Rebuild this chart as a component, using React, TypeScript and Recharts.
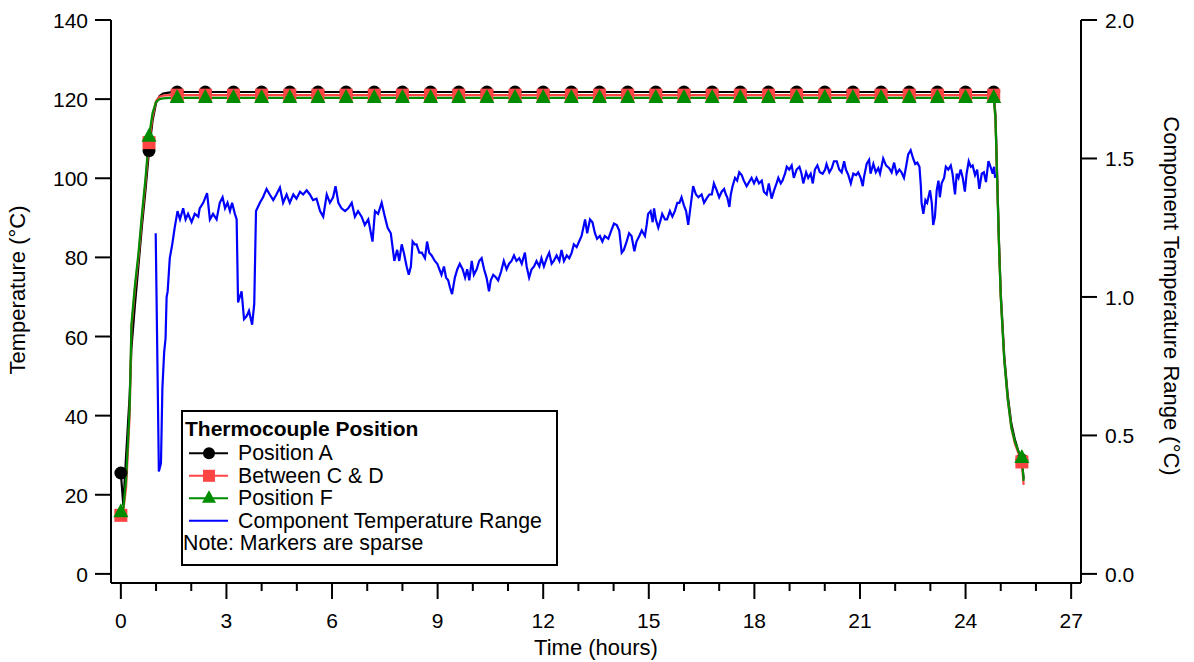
import React from "react";
import { ComposedChart, Line, XAxis, YAxis, Legend } from "recharts";

const FONT = "Arial, 'Liberation Sans', Helvetica, sans-serif";
const RED = "#ff4444";
const GREEN = "#008c00";
const BLUE = "#0000ff";

// thermocouple samples (hours); markers are drawn every 0.8 h
const thermoHours = [
  0, 0.07, 0.15, 0.25, 0.3, 0.4, 0.5, 0.6, 0.7, 0.8, 0.9, 1.0, 1.1, 1.2, 1.4,
  1.6, 2.4, 3.2, 4.0, 4.8, 5.6, 6.4, 7.2, 8.0, 8.8,
  9.6, 10.4, 11.2, 12.0, 12.8, 13.6, 14.4, 15.2, 16.0, 16.8,
  17.6, 18.4, 19.2, 20.0, 20.8, 21.6, 22.4, 23.2, 24.0, 24.8,
  24.85, 24.9, 24.95, 25.0, 25.1, 25.2, 25.3, 25.4, 25.5, 25.6, 25.65,
];

const positionA = [
  25.5, 17.4, 30, 45, 57, 68, 78, 88, 97, 107, 114.5, 119, 120.8, 121.4, 121.7,
  121.8, 121.8, 121.8, 121.8, 121.8, 121.8, 121.8, 121.8, 121.8, 121.8,
  121.8, 121.8, 121.8, 121.8, 121.8, 121.8, 121.8, 121.8, 121.8, 121.8,
  121.8, 121.8, 121.8, 121.8, 121.8, 121.8, 121.8, 121.8, 121.8, 121.8,
  116, 100, 84, 71, 55, 45, 38, 34, 31, 28.8, 24,
];

const betweenCD = [
  14.8, 16, 22, 40, 62, 72, 80, 90, 99, 109, 115.5, 119.5, 120.6, 120.9, 121.0,
  121.0, 121.0, 121.0, 121.0, 121.0, 121.0, 121.0, 121.0, 121.0, 121.0,
  121.0, 121.0, 121.0, 121.0, 121.0, 121.0, 121.0, 121.0, 121.0, 121.0,
  121.0, 121.0, 121.0, 121.0, 121.0, 121.0, 121.0, 121.0, 121.0, 121.0,
  115, 99, 83, 70, 54, 44, 37, 33, 30.5, 28.3, 22.5,
];

const positionF = [
  15.6, 16.5, 24, 42, 63, 73, 81, 91, 100, 110.5, 116.5, 119.3, 120, 120.2, 120.3,
  120.3, 120.3, 120.3, 120.3, 120.3, 120.3, 120.3, 120.3, 120.3, 120.3,
  120.3, 120.3, 120.3, 120.3, 120.3, 120.3, 120.3, 120.3, 120.3, 120.3,
  120.3, 120.3, 120.3, 120.3, 120.3, 120.3, 120.3, 120.3, 120.3, 120.3,
  115, 99, 83, 70, 54, 44, 37, 33.5, 31, 29.3, 23.5,
];

// component temperature range [hours, °C]
const rangeWarmUp: [number, number][] = [
  [0.99, 1.23], [1.08, 0.37], [1.14, 0.4], [1.18, 0.67], [1.23, 0.8], [1.27, 0.85], [1.3, 1.0],
  [1.33, 1.02], [1.39, 1.14], [1.46, 1.19], [1.53, 1.25], [1.61, 1.31], [1.68, 1.28], [1.77, 1.32],
  [1.84, 1.28], [1.91, 1.3], [2.01, 1.27], [2.1, 1.3], [2.2, 1.29], [2.24, 1.32], [2.34, 1.34],
  [2.45, 1.375], [2.53, 1.28], [2.62, 1.3], [2.72, 1.28], [2.81, 1.34], [2.89, 1.36], [2.96, 1.32],
  [3.03, 1.34], [3.1, 1.31], [3.16, 1.34], [3.24, 1.3], [3.29, 1.28], [3.33, 0.98], [3.43, 1.02],
  [3.5, 0.92], [3.57, 0.93], [3.64, 0.95], [3.73, 0.9], [3.79, 0.975], [3.84, 1.31], [3.95, 1.34],
  [4.04, 1.36], [4.14, 1.39], [4.23, 1.37], [4.33, 1.35], [4.42, 1.37], [4.52, 1.395], [4.61, 1.34],
  [4.71, 1.37], [4.8, 1.34], [4.9, 1.37], [4.99, 1.355], [5.09, 1.38], [5.18, 1.37], [5.28, 1.385],
  [5.37, 1.37], [5.46, 1.35], [5.56, 1.355], [5.66, 1.31], [5.75, 1.29], [5.85, 1.37], [5.94, 1.34],
  [6.03, 1.36], [6.1, 1.4], [6.18, 1.34], [6.27, 1.32], [6.37, 1.31], [6.46, 1.32], [6.56, 1.34],
  [6.65, 1.29], [6.74, 1.31], [6.84, 1.29], [6.93, 1.26], [7.03, 1.28], [7.15, 1.2], [7.22, 1.31],
  [7.31, 1.3], [7.41, 1.34], [7.5, 1.29], [7.58, 1.25], [7.67, 1.23], [7.77, 1.13], [7.85, 1.17],
  [7.91, 1.13], [7.98, 1.19],
];

const rangeMiddle: [number, number][] = [
  [8.04, 1.16], [8.12, 1.11], [8.18, 1.08], [8.24, 1.11], [8.29, 1.2], [8.35, 1.19], [8.4, 1.19],
  [8.48, 1.16], [8.55, 1.16], [8.64, 1.14], [8.7, 1.2], [8.76, 1.16], [8.83, 1.15], [8.92, 1.13],
  [8.99, 1.12], [9.05, 1.1], [9.11, 1.08], [9.18, 1.11], [9.24, 1.07], [9.3, 1.06], [9.35, 1.035],
  [9.41, 1.01], [9.49, 1.07], [9.56, 1.1], [9.63, 1.12], [9.71, 1.1], [9.78, 1.07], [9.84, 1.1],
  [9.9, 1.06], [9.97, 1.13], [10.03, 1.08], [10.11, 1.1], [10.18, 1.13], [10.25, 1.14], [10.32, 1.1],
  [10.39, 1.07], [10.46, 1.02], [10.51, 1.06], [10.58, 1.08], [10.66, 1.07], [10.72, 1.06],
  [10.8, 1.09], [10.88, 1.13], [10.96, 1.1], [11.03, 1.12], [11.1, 1.13], [11.17, 1.15], [11.24, 1.13],
  [11.32, 1.14], [11.39, 1.12], [11.48, 1.16], [11.53, 1.11], [11.6, 1.07], [11.67, 1.1], [11.74, 1.11],
  [11.81, 1.13], [11.89, 1.11], [11.95, 1.14], [12.02, 1.11], [12.1, 1.14], [12.17, 1.16], [12.24, 1.12],
  [12.3, 1.13], [12.38, 1.15], [12.46, 1.13], [12.52, 1.17], [12.59, 1.13], [12.67, 1.15], [12.74, 1.14],
  [12.81, 1.16], [12.87, 1.19], [12.95, 1.18], [13.02, 1.2], [13.09, 1.22], [13.14, 1.25], [13.19, 1.28],
  [13.25, 1.23], [13.33, 1.28], [13.4, 1.27], [13.47, 1.23], [13.53, 1.21], [13.61, 1.22], [13.68, 1.2],
  [13.75, 1.22], [13.85, 1.21], [13.92, 1.235], [14.01, 1.265], [14.09, 1.26], [14.16, 1.24],
  [14.23, 1.16], [14.29, 1.17], [14.37, 1.2], [14.44, 1.23], [14.51, 1.22], [14.59, 1.165], [14.65, 1.2],
  [14.73, 1.22], [14.8, 1.24], [14.89, 1.22], [14.94, 1.26], [14.98, 1.3],
];

const rangeLate: [number, number][] = [
  [15.05, 1.31], [15.11, 1.27], [15.15, 1.32], [15.2, 1.28], [15.27, 1.25], [15.34, 1.28], [15.38, 1.3],
  [15.46, 1.28], [15.52, 1.28], [15.6, 1.31], [15.67, 1.29], [15.74, 1.31], [15.81, 1.34], [15.87, 1.34],
  [15.93, 1.36], [16.0, 1.33], [16.06, 1.31], [16.12, 1.26], [16.19, 1.33], [16.26, 1.4], [16.34, 1.37],
  [16.41, 1.36], [16.5, 1.37], [16.57, 1.34], [16.64, 1.355], [16.72, 1.37], [16.79, 1.37], [16.85, 1.41],
  [16.93, 1.385], [17.0, 1.36], [17.07, 1.38], [17.14, 1.39], [17.19, 1.37], [17.23, 1.36], [17.29, 1.325],
  [17.33, 1.37], [17.38, 1.4], [17.45, 1.43], [17.51, 1.42], [17.57, 1.45], [17.64, 1.44], [17.7, 1.42],
  [17.78, 1.4], [17.85, 1.415], [17.92, 1.43], [17.99, 1.41], [18.06, 1.43], [18.13, 1.41], [18.21, 1.42],
  [18.27, 1.38], [18.35, 1.37], [18.41, 1.41], [18.49, 1.355], [18.56, 1.385], [18.63, 1.41], [18.68, 1.43],
  [18.75, 1.41], [18.8, 1.42], [18.87, 1.445], [18.92, 1.47], [18.99, 1.46], [19.06, 1.475], [19.12, 1.43],
  [19.2, 1.46], [19.28, 1.47], [19.34, 1.445], [19.39, 1.41], [19.47, 1.45], [19.53, 1.43], [19.6, 1.445],
  [19.66, 1.41], [19.72, 1.46], [19.79, 1.475], [19.86, 1.45], [19.94, 1.445], [20.01, 1.46], [20.05, 1.48],
  [20.13, 1.45], [20.2, 1.465], [20.26, 1.49], [20.34, 1.49], [20.41, 1.46], [20.48, 1.45], [20.55, 1.49],
  [20.6, 1.46], [20.67, 1.44], [20.74, 1.41], [20.81, 1.445], [20.89, 1.44], [20.95, 1.45], [21.02, 1.43],
  [21.08, 1.4], [21.11, 1.43], [21.19, 1.48], [21.26, 1.495], [21.3, 1.445], [21.38, 1.48], [21.45, 1.45],
  [21.52, 1.465], [21.57, 1.445], [21.66, 1.5], [21.74, 1.475], [21.83, 1.465], [21.9, 1.45], [21.97, 1.485],
  [22.04, 1.445], [22.12, 1.46], [22.18, 1.45], [22.25, 1.43], [22.31, 1.47], [22.37, 1.515], [22.44, 1.53],
  [22.51, 1.5], [22.57, 1.48], [22.63, 1.485], [22.69, 1.47], [22.73, 1.4], [22.75, 1.34], [22.8, 1.3],
  [22.86, 1.35], [22.91, 1.34], [22.99, 1.385], [23.04, 1.34], [23.08, 1.26], [23.13, 1.29], [23.18, 1.385],
  [23.23, 1.42], [23.27, 1.36], [23.32, 1.41], [23.39, 1.43], [23.44, 1.47], [23.51, 1.46], [23.58, 1.475],
  [23.63, 1.445], [23.7, 1.37], [23.75, 1.445], [23.8, 1.43], [23.86, 1.46], [23.92, 1.43], [23.98, 1.38],
  [24.03, 1.445], [24.09, 1.49], [24.15, 1.47], [24.2, 1.475], [24.27, 1.44], [24.33, 1.46], [24.39, 1.39],
  [24.46, 1.445], [24.52, 1.45], [24.58, 1.415], [24.65, 1.49], [24.71, 1.47], [24.77, 1.445], [24.81, 1.47],
  [24.84, 1.43],
];

const hourTicks = [0, 1, 2, 3, 4, 5, 6, 7, 8, 9, 10, 11, 12, 13, 14, 15, 16, 17, 18, 19, 20, 21, 22, 23, 24, 25, 26, 27];
const tempTicks = [0, 20, 40, 60, 80, 100, 120, 140];
const rangeTicks = [0, 0.5, 1, 1.5, 2];

const isMarker = (t: number) => Math.abs(t / 0.8 - Math.round(t / 0.8)) < 1e-6;

const thermoData = thermoHours.map((t, i) => ({
  t,
  a: positionA[i],
  cd: betweenCD[i],
  f: positionF[i],
  mark: isMarker(t),
}));

const rangeData = [...rangeWarmUp, ...rangeMiddle, ...rangeLate].map(([t, v]) => ({ t, v }));

const CircleDot = (props: any) => {
  const { cx, cy, payload, index } = props;
  if (!payload.mark) return <g key={`a-${index}`} />;
  return <circle key={`a-${index}`} cx={cx} cy={cy} r={6.5} fill="#000" />;
};

const SquareDot = (props: any) => {
  const { cx, cy, payload, index } = props;
  if (!payload.mark) return <g key={`cd-${index}`} />;
  return <rect key={`cd-${index}`} x={cx - 6.5} y={cy - 6.5} width={13} height={13} fill={RED} />;
};

const TriangleDot = (props: any) => {
  const { cx, cy, payload, index } = props;
  if (!payload.mark) return <g key={`f-${index}`} />;
  return (
    <polygon
      key={`f-${index}`}
      points={`${cx},${cy - 9} ${cx - 7.5},${cy + 5} ${cx + 7.5},${cy + 5}`}
      fill={GREEN}
    />
  );
};

const HourTick = (props: any) => {
  const { x, y, payload } = props;
  const major = payload.value % 3 === 0;
  return (
    <g>
      <line x1={x} y1={y} x2={x} y2={y + (major ? 16 : 8)} stroke="#000" strokeWidth={2} />
      {major && (
        <text x={x} y={y + 45} textAnchor="middle" fontSize={21} fontFamily={FONT} fill="#000">
          {payload.value}
        </text>
      )}
    </g>
  );
};

const TempTick = (props: any) => {
  const { x, y, payload } = props;
  return (
    <g>
      <line x1={x - 16} y1={y} x2={x} y2={y} stroke="#000" strokeWidth={2} />
      <text x={x - 23} y={y + 8} textAnchor="end" fontSize={21} fontFamily={FONT} fill="#000">
        {payload.value}
      </text>
    </g>
  );
};

const RangeTick = (props: any) => {
  const { x, y, payload } = props;
  return (
    <g>
      <line x1={x} y1={y} x2={x + 16} y2={y} stroke="#000" strokeWidth={2} />
      <text x={x + 24} y={y + 8} textAnchor="start" fontSize={21} fontFamily={FONT} fill="#000">
        {Number(payload.value).toFixed(1)}
      </text>
    </g>
  );
};

const legendRows = [
  { name: "Position A", color: "#000", shape: "circle" },
  { name: "Between C & D", color: RED, shape: "square" },
  { name: "Position F", color: GREEN, shape: "triangle" },
  { name: "Component Temperature Range", color: BLUE, shape: "none" },
];

const LegendBox = () => (
  <svg width={377} height={156} style={{ display: "block" }}>
    <rect x={1} y={1} width={375} height={154} fill="#fff" stroke="#000" strokeWidth={2} />
    <text x={4} y={26} fontSize={21} fontWeight="bold" fontFamily={FONT} fill="#000">
      Thermocouple Position
    </text>
    {legendRows.map((row, i) => {
      const base = 50 + i * 22.5;
      const cy = base - 6.7;
      return (
        <g key={row.name}>
          <line x1={8} y1={cy} x2={47} y2={cy} stroke={row.color} strokeWidth={2} />
          {row.shape === "circle" && <circle cx={28} cy={cy} r={6} fill={row.color} />}
          {row.shape === "square" && <rect x={22} y={cy - 6} width={12} height={12} fill={row.color} />}
          {row.shape === "triangle" && (
            <polygon points={`28,${cy - 8} 21,${cy + 4.5} 35,${cy + 4.5}`} fill={row.color} />
          )}
          <text x={57} y={base} fontSize={21.3} fontFamily={FONT} fill="#000">
            {row.name}
          </text>
        </g>
      );
    })}
    <text x={2} y={140} fontSize={21.3} fontFamily={FONT} fill="#000">
      Note: Markers are sparse
    </text>
  </svg>
);

const App: React.FC = () => {
  return (
    <div style={{ position: "absolute", left: 0, top: 0, background: "#fff" }}>
      <ComposedChart width={1194} height={662} margin={{ top: 20, right: 0, bottom: 0, left: 0 }}>
        <XAxis
          dataKey="t"
          type="number"
          domain={[-0.28, 27.28]}
          ticks={hourTicks}
          interval={0}
          allowDataOverflow
          height={79}
          tickSize={0}
          tickMargin={0}
          tickLine={false}
          tick={<HourTick />}
          axisLine={{ stroke: "#000", strokeWidth: 2 }}
          label={(p: any) => (
            <text
              x={p.viewBox.x + p.viewBox.width / 2}
              y={p.viewBox.y + 72}
              textAnchor="middle"
              fontSize={22}
              fontFamily={FONT}
              fill="#000"
            >
              Time (hours)
            </text>
          )}
        />
        <YAxis
          yAxisId="left"
          orientation="left"
          width={111}
          domain={[-2.3, 140]}
          ticks={tempTicks}
          interval={0}
          allowDataOverflow
          tickSize={0}
          tickMargin={0}
          tickLine={false}
          tick={<TempTick />}
          axisLine={{ stroke: "#000", strokeWidth: 2 }}
          label={(p: any) => {
            const cx = p.viewBox.x + 17;
            const cy = 290;
            return (
              <text
                x={cx}
                y={cy}
                dy="0.35em"
                transform={`rotate(-90, ${cx}, ${cy})`}
                textAnchor="middle"
                fontSize={22}
                fontFamily={FONT}
                fill="#000"
              >
                Temperature (°C)
              </text>
            );
          }}
        />
        <YAxis
          yAxisId="right"
          orientation="right"
          width={113}
          domain={[-2.3 / 70, 2]}
          ticks={rangeTicks}
          interval={0}
          allowDataOverflow
          tickSize={0}
          tickMargin={0}
          tickLine={false}
          tick={<RangeTick />}
          axisLine={{ stroke: "#000", strokeWidth: 2 }}
          label={() => {
            const cx = 1172;
            const cy = 296;
            return (
              <text
                x={cx}
                y={cy}
                dy="0.35em"
                transform={`rotate(90, ${cx}, ${cy})`}
                textAnchor="middle"
                fontSize={22}
                fontFamily={FONT}
                fill="#000"
              >
                Component Temperature Range (°C)
              </text>
            );
          }}
        />
        <Legend
          layout="vertical"
          align="center"
          verticalAlign="middle"
          wrapperStyle={{ left: 181, top: 410, width: 377, height: 156 }}
          content={() => <LegendBox />}
        />
        <Line
          data={rangeData}
          dataKey="v"
          yAxisId="right"
          type="linear"
          stroke={BLUE}
          strokeWidth={2.2}
          dot={false}
          activeDot={false}
          isAnimationActive={false}
        />
        <Line
          data={thermoData}
          dataKey="a"
          yAxisId="left"
          type="linear"
          stroke="#000"
          strokeWidth={2.2}
          dot={CircleDot}
          activeDot={false}
          isAnimationActive={false}
        />
        <Line
          data={thermoData}
          dataKey="cd"
          yAxisId="left"
          type="linear"
          stroke={RED}
          strokeWidth={2.2}
          dot={SquareDot}
          activeDot={false}
          isAnimationActive={false}
        />
        <Line
          data={thermoData}
          dataKey="f"
          yAxisId="left"
          type="linear"
          stroke={GREEN}
          strokeWidth={2.2}
          dot={TriangleDot}
          activeDot={false}
          isAnimationActive={false}
        />
      </ComposedChart>
    </div>
  );
};

export default App;
